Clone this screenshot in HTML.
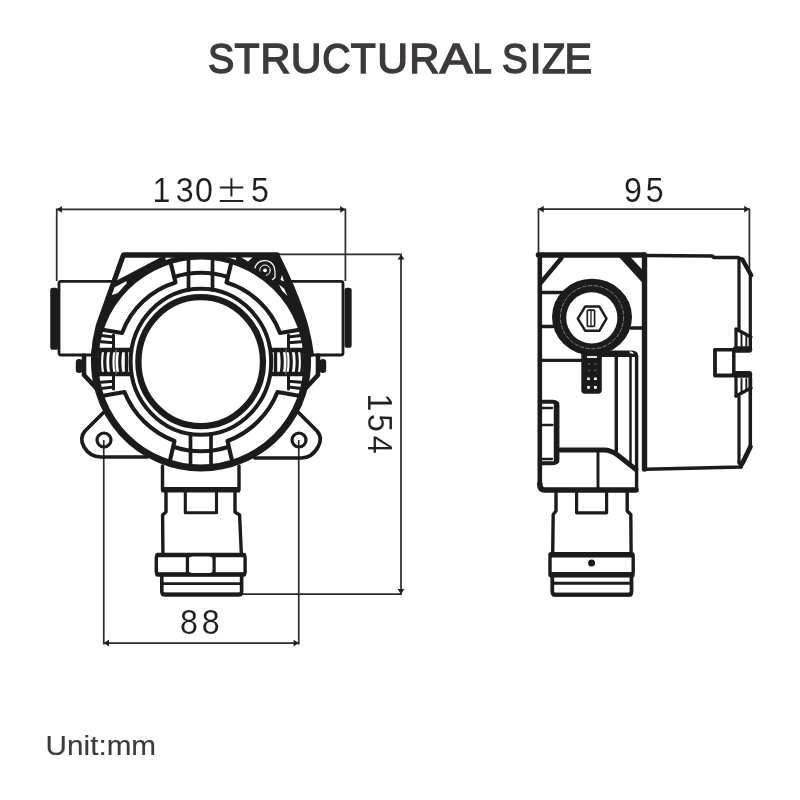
<!DOCTYPE html>
<html>
<head>
<meta charset="utf-8">
<title>Structural Size</title>
<style>
html,body{margin:0;padding:0;background:#fff;}
body{width:800px;height:800px;overflow:hidden;font-family:"Liberation Sans",sans-serif;}
svg{display:block;will-change:transform;}
text{font-family:"Liberation Sans",sans-serif;}
.k{stroke:#1c1a1a;fill:none;stroke-linecap:round;stroke-linejoin:round;}
.d{stroke:#2a2a2a;stroke-width:1.7;fill:none;}
.dim{fill:#1e1e1e;stroke:#fff;stroke-width:0.12;font-size:35px;}
</style>
</head>
<body>
<svg width="800" height="800" viewBox="0 0 800 800">
<rect width="800" height="800" fill="#fff"/>

<!-- ===== TEXT ===== -->
<g id="texts">
<g id="title" font-size="43.0" fill="#3e3a39" stroke="#3e3a39" stroke-width="1.5">
<text transform="translate(207.92 73.100) scale(0.9152 1)">S</text>
<text transform="translate(234.39 73.100) scale(0.9537 1)">T</text>
<text transform="translate(260.40 73.100) scale(0.9638 1)">R</text>
<text transform="translate(290.84 73.100) scale(0.9922 1)">U</text>
<text transform="translate(322.33 73.100) scale(0.9095 1)">C</text>
<text transform="translate(350.79 73.100) scale(0.9537 1)">T</text>
<text transform="translate(377.14 73.100) scale(0.9922 1)">U</text>
<text transform="translate(409.18 73.100) scale(0.9712 1)">R</text>
<text transform="translate(439.63 73.100) scale(1.1371 1)">A</text>
<text transform="translate(472.67 73.100) scale(0.7958 1)">L</text>
<text transform="translate(502.04 73.100) scale(0.8961 1)">S</text>
<text transform="translate(529.82 73.100) scale(0.9859 1)">I</text>
<text transform="translate(541.92 73.100) scale(0.8945 1)">Z</text>
<text transform="translate(564.61 73.100) scale(0.9626 1)">E</text>
</g>
<text id="t130" class="dim" transform="scale(0.92,1)" x="165.776 191.101 211.935" y="202.300">130</text>
<text id="t130b" class="dim" transform="scale(0.92,1)" x="272.850" y="202.300">5</text>
<path d="M231.400 178.200V196.500M219.800 187.400H243.200M219.800 200.900H243.200" stroke="#222" stroke-width="2" fill="none"/>
<text id="t95" class="dim" transform="scale(0.92,1)" x="678.394 701.872" y="201.800">95</text>
<text id="t88" class="dim" transform="scale(0.92,1)" x="195.785 219.372" y="634.500">88</text>
<text id="t154" class="dim" transform="translate(367.700,0) rotate(90) scale(0.92,1)" x="427.841 450.133 473.601" y="0">154</text>
<text id="unit" x="45.600" y="754.600" font-size="28.400" fill="#3e3a39" stroke="#3e3a39" stroke-width="0.150" textLength="110.500" lengthAdjust="spacingAndGlyphs">Unit:mm</text>
</g>

<!-- ===== DIMENSION LINES ===== -->
<g id="dims" class="d">
<path d="M56.700 209.400H345.400M56.700 208.500V281M345.400 208.500V281"/>
<path d="M401 254.400V594.200M278 254.400H401.800M240 594.200H401.800"/>
<path d="M103.750 643.100H298.750M103.750 440V644.500M298.750 440V644.500"/>
<path d="M538.500 209.200H749.400M538.500 208.500V255M749.400 208.500V275"/>
<path d="M56.7 209.4L61.9 206.0L61.9 212.8Z M345.4 209.4L340.2 212.8L340.2 206.0Z M401.0 254.4L404.4 259.6L397.6 259.6Z M401.0 594.2L397.6 589.0L404.4 589.0Z M103.8 643.1L109.0 639.7L109.0 646.5Z M298.8 643.1L293.6 646.5L293.6 639.7Z M538.5 209.2L543.7 205.8L543.7 212.6Z M749.4 209.2L744.2 212.6L744.2 205.8Z" fill="#1e1e1e" stroke="none"/>
</g>

<!-- ===== FRONT VIEW ===== -->
<g id="front" class="k">
<!-- conduit boxes -->
<path d="M115 281.300H61q-2 0-2 2V353q0 2 2 2H92" stroke-width="2.800"/>
<path d="M287 281.300H341q2 0 2 2V353q0 2-2 2H311" stroke-width="2.800"/>
<rect x="51" y="288.500" width="6.300" height="60.500" rx="1.800" fill="#1c1a1a" stroke-width="1.500"/>
<rect x="345.300" y="288.500" width="5.600" height="58.500" rx="1.800" fill="#1c1a1a" stroke-width="1.500"/>
<!-- housing top and sides -->
<path d="M124 255H277" stroke-width="5.700"/>
<path d="M123 256L98.500 325Q94.500 340 93.500 356" stroke-width="5.200"/>
<path d="M277 256Q298 298 306 328Q309.500 342 311 354" stroke-width="5.700"/>
<path d="M114.500 284.500L163 259" stroke-width="5.300"/>
<path d="M126.500 279.500L150 266.500V272L126.500 287.500Z" fill="#1c1a1a" stroke="none"/>
<path d="M103 318L110.500 295.500L118 293L110 310Z" fill="#1c1a1a" stroke="none"/>
<!-- hinge screw (filled corner) -->
<path d="M252 256H278L292 287Q303 315 307.500 343L304.500 342.600A105.300 105.300 0 0 0 252 269.800Z" fill="#1c1a1a" stroke="none"/>
<path d="M236 256H253V271L236 262Z" fill="#1c1a1a" stroke="none"/>
<path d="M241.500 257.600H252.500L248 261.500Z" fill="#fff" stroke="none"/>
<path d="M254.800 268.500A10.200 10.200 0 0 1 274 266.500Q275.500 271 275 277.500L272.500 279.500" stroke="#fff" stroke-width="1.300"/>
<circle cx="265" cy="270.300" r="5.300" stroke="#fff" stroke-width="1"/>
<circle cx="265" cy="270.300" r="1.900" fill="#fff" stroke="none"/>
<path d="M282 275L280.500 280L284 281.500Z" fill="#fff" stroke="none"/>
<path d="M279 284.500L284 288.500L287.500 296L282 291Z" fill="#fff" stroke="none"/>
<!-- ears -->
<path d="M103 413L85 431Q79 438 84 447Q90 457 101 457H147" stroke-width="3.700"/>
<path d="M299 413L317 431Q323 438 318 447Q312 458 301 458H255" stroke-width="3.700"/>
<circle cx="104" cy="440" r="7" stroke-width="3.200"/>
<circle cx="299" cy="440" r="7" stroke-width="3.200"/>
<!-- side bolts -->
<path d="M84 355.500V375L98 390" stroke-width="4.600"/>
<rect x="76.600" y="359.800" width="5" height="12.400" rx="2.500" fill="#1c1a1a" stroke-width="1.600"/>
<path d="M318 355.500V375L304 390" stroke-width="4.600"/>
<rect x="320.400" y="359.800" width="5" height="12.400" rx="2.500" fill="#1c1a1a" stroke-width="1.600"/>
<!-- main circles -->
<circle cx="201" cy="362" r="105.300" stroke-width="5.500"/>
<path d="M93.400 350A108.200 108.200 0 1 0 308.600 350" stroke-width="3.700"/>
<ellipse cx="200.700" cy="361.700" rx="62.300" ry="64.500" stroke-width="6.300"/>
<ellipse cx="200.900" cy="361.800" rx="70.300" ry="73" stroke-width="4.000"/>
</g>

<!-- ring segments + tabs -->
<g id="ring" class="k" stroke-width="4.100">
<g id="seg">
<path d="M171 264L175.500 282.500A83 83 0 0 0 122 333L104 330"/>
</g>
<g transform="translate(402 0) scale(-1 1)">
<path d="M171 264L175.500 282.500A83 83 0 0 0 122 333L104 330"/>
</g>
<g id="segb">
<path d="M170 460.500L174.500 441A86.500 86.500 0 0 1 124.500 392L104.500 395.500"/>
</g>
<g transform="translate(402 0) scale(-1 1)">
<path d="M170 460.500L174.500 441A86.500 86.500 0 0 1 124.500 392L104.500 395.500"/>
</g>
<!-- top tab -->
<g id="tabv">
<path d="M174 277A89 89 0 0 1 228 277" stroke-width="4" stroke-linecap="butt"/>
<path d="M188.500 259V290M212.500 259V290" stroke-width="3.700"/>
</g>
<path d="M174 447A89 89 0 0 0 228 447" stroke-width="4" stroke-linecap="butt"/>
<path d="M190.500 434V466M211 434V466" stroke-width="3.700"/>
<!-- right tab -->
<g id="tabh">
<path d="M273 350H304M273 374H304" stroke-width="4.600"/>
<path d="M275.500 350V374" stroke-width="3.400"/>
<path d="M281 350Q283.500 362 281 374M290 350Q292.500 362 290 374M296 350Q298.500 362 296 374M301.500 350Q303.500 362 301.500 374" stroke-width="3.200"/>
<path d="M285.800 350Q288 362 285.800 374" stroke-width="1.300" stroke="#666"/>
<path d="M288.500 335V350M288.500 337L301 335.500M288.500 342.800L301 341.800M288.500 389V374M288.500 387L301 388.500M288.500 381.200L301 382.200" stroke-width="3"/>
</g>
<g transform="translate(402 0) scale(-1 1)">
<path d="M273 350H304M273 374H304" stroke-width="4.600"/>
<path d="M275.500 350V374" stroke-width="3.400"/>
<path d="M281 350Q283.500 362 281 374M290 350Q292.500 362 290 374M296 350Q298.500 362 296 374M301.500 350Q303.500 362 301.500 374" stroke-width="3.200"/>
<path d="M285.800 350Q288 362 285.800 374" stroke-width="1.300" stroke="#666"/>
<path d="M288.500 335V350M288.500 337L301 335.500M288.500 342.800L301 341.800M288.500 389V374M288.500 387L301 388.500M288.500 381.200L301 382.200" stroke-width="3"/>
</g>
</g>

<!-- ===== FRONT STEM ===== -->
<g id="fstem" class="k" stroke-width="3.400">
<path d="M162.500 466V490M239 466V490"/>
<path d="M161.500 489.700H240" stroke-width="5.400" stroke-linecap="butt"/>
<path d="M166 492V512L162.600 515L162.900 553M235 492V512L239.600 515L241.300 553"/>
<path d="M185.300 492V512.800H216.500V492" stroke-width="3.100"/>
<rect x="156.300" y="555" width="88.800" height="19.500" rx="2.500" stroke-width="3.400"/>
<path d="M157.500 555H244M157.500 574.500H244" stroke-width="4.600"/>
<path d="M187.500 556V574M214 556V574" stroke-width="3.400"/>
<rect x="189.300" y="556.500" width="23" height="16.600" rx="3.500" fill="#fff" stroke="none"/>
<path d="M161.800 577V591.500Q161.800 594.600 165.500 594.600H238Q241.600 594.600 241.600 591.500V577" stroke-width="3.600"/>
<path d="M163 594.600H240.500" stroke-width="4"/>
<path d="M162 583.700H241.500" stroke-width="2.800"/>
</g>

<!-- ===== SIDE VIEW ===== -->
<g id="side" class="k" stroke-width="3.500">
<!-- left housing -->
<path d="M538.500 255H644" stroke-width="5.600"/>
<path d="M539.800 255V485" stroke-width="4.600"/>
<path d="M539.800 484Q539.800 490 545 490H636" stroke-width="5.600"/>
<path d="M644.500 255V469" stroke-width="5.400"/>
<path d="M561.500 258L541 282.500" stroke-width="4.400"/>
<path d="M618.500 256.500H630L644 271.500V284.500Z" fill="#1c1a1a" stroke="none"/>
<path d="M541 292.500H562M541 326.500H553M631 328H642M541 360.300H582" stroke-width="3.300"/>
<!-- big ring -->
<ellipse cx="592" cy="317" rx="40" ry="38.300" fill="#1c1a1a" stroke="none"/>
<circle cx="591.800" cy="317.800" r="25.600" fill="#fff" stroke="none"/>
<circle cx="592" cy="317.200" r="31.600" stroke="#8a8a8a" stroke-width="0.900" stroke-dasharray="3.600 2.200"/>
<!-- hex -->
<path d="M577.800 318.600L585.300 306.400H599.300L606.500 318.600L599.300 330.800H585.300Z" stroke-width="2.500"/>
<rect x="587.300" y="310.100" width="7.300" height="16.300" rx="1.200" stroke-width="1.600"/>
<path d="M591 311V325.500" stroke-width="1.300"/>
<!-- stem under ring (filled) -->
<path d="M581.300 350H601.800V390Q601.800 393.800 598 393.800H585Q581.300 393.800 581.300 390Z" fill="#1c1a1a" stroke="none"/>
<path d="M587 357H597" stroke="#fff" stroke-width="1.800" stroke-linecap="butt"/>
<path d="M587.200 378.800h2.600m4.200 0h2.800M587.200 387.400h2.600m4.200 0h2.800" stroke="#fff" stroke-width="2.600" stroke-linecap="butt"/>
<path d="M588 364h2.200m4 0h2.200M588 370.500h2.200m4 0h2.200" stroke="#5a5a5a" stroke-width="1.500" stroke-linecap="butt"/>
<!-- panel -->
<path d="M600 350.600H632Q638.300 350.600 638.300 357H600Z" fill="#1c1a1a" stroke="none"/>
<path d="M636.600 356V489" stroke-width="3.400"/>
<ellipse cx="631.500" cy="352.600" rx="2.200" ry="1" fill="#fff" stroke="none" transform="rotate(20 631.5 352.6)"/>
<path d="M616.300 357V451" stroke-width="3.400"/>
<path d="M630.500 357V464" stroke-width="2.500"/>
<path d="M560 450H604Q611 450 617.500 455L636 469.500" stroke-width="4.800"/>
<path d="M598 452V488" stroke-width="2.900"/>
<!-- left tab -->
<path d="M541 401.700H553Q557.300 401.700 557.300 406V459Q557.300 463.200 553 463.200H541" stroke-width="3.900"/>
<path d="M556.500 404V461" stroke-width="5.500"/>
<path d="M542 408H552M542 425H552.500M542 459H552" stroke-width="2.300"/>
<!-- right body -->
<path d="M646 255.500L712 256L714 257.500H738Q741 258 743 261L751.500 275.500" stroke-width="3.600"/>
<path d="M739 259V329" stroke-width="3.200"/>
<path d="M750.300 276V337" stroke-width="3.200"/>
<path d="M742.500 259.500L751 275" stroke-width="4.200"/>
<!-- latch -->
<path d="M736 329L751 337" stroke-width="3.200"/>
<path d="M736 330V347M736 378V396" stroke-width="3.200"/>
<path d="M741.500 332.500V346M746.300 335V346M741.500 379V393M746.300 379V391" stroke-width="1.900"/>
<path d="M750.300 337V348.500Q750.300 349.800 748 349.800H715" stroke-width="3.400"/>
<path d="M736 349.600H749" stroke-width="6.500"/>
<path d="M715 350V375.500H748Q750.300 375.500 750.300 377.500V388" stroke-width="3.800"/>
<path d="M736 374.200H749" stroke-width="6.500"/>
<path d="M733.800 350V374" stroke-width="3.500"/>
<path d="M751 388L736 396" stroke-width="3.200"/>
<path d="M739 396V463" stroke-width="3.200"/>
<path d="M750.300 388V447L741 467L646 469.300" stroke-width="3.500"/>
<path d="M739 462L741 467" stroke-width="3.200"/>
<path d="M750.300 447L742.500 463" stroke-width="4.800"/>
</g>

<!-- ===== SIDE STEM ===== -->
<g id="sstem" class="k" stroke-width="3.400">
<path d="M556 493V511L553.200 514.500L552.700 552M627.200 493V511L630.800 514.500L631.100 552"/>
<path d="M576.600 493V512.800H606.600V493" stroke-width="3.200"/>
<rect x="550" y="554.500" width="83.200" height="20.300" rx="2.500" stroke-width="3.400"/>
<path d="M551 554.700H632M551 574.800H632" stroke-width="5.400"/>
<circle cx="591.600" cy="563" r="2.700" fill="#1c1a1a" stroke-width="1.600"/>
<path d="M552.300 577V591.500Q552.300 594.700 556 594.700H628Q631.500 594.700 631.500 591.500V577" stroke-width="3.800"/>
<path d="M553.500 594.700H630.500" stroke-width="4"/>
<path d="M552.500 583.300H631.500" stroke-width="3"/>
</g>
</svg>
</body>
</html>
